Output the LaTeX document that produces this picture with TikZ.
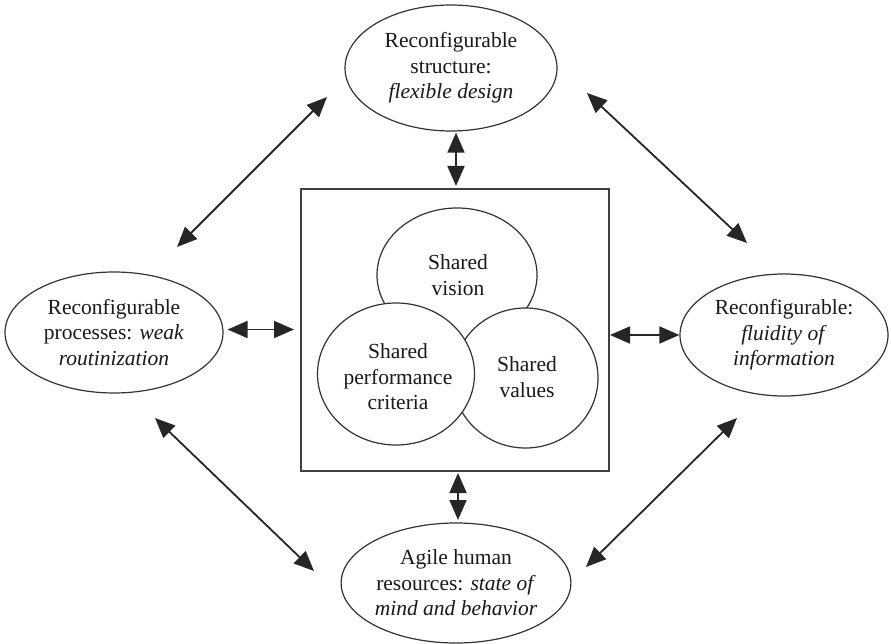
\documentclass[tikz,border=0pt]{standalone}
\usepackage{fontspec}
\setmainfont{Liberation Serif}
\usetikzlibrary{shapes.geometric,arrows.meta}

\tikzset{
  lbl/.style={align=center, font=\fontsize{21.5}{25.5}\selectfont, text=black!90},
  oval/.style={ellipse, draw=black!80, line width=1.2pt, fill=white, inner sep=0pt, lbl},
  disc/.style={ellipse, draw=black!80, line width=1.2pt, fill=white, inner sep=0pt},
  frame/.style={rectangle, draw=black!75, line width=1.6pt, inner sep=0pt},
  link/.style={draw=black!85, line width=1.8pt, {Triangle[length=20pt,width=17pt]}-{Triangle[length=20pt,width=17pt]}}
}

\begin{document}
\begin{tikzpicture}[x=1pt,y=-1pt]
\useasboundingbox (0,0) rectangle (891,644);

% central frame
\node[frame, minimum width=308pt, minimum height=282pt] (box) at (455,330) {};

% three overlapping shared elements
\node[disc, minimum width=160pt, minimum height=134pt] (vision) at (457,275) {};
\node[disc, minimum width=145pt, minimum height=140pt] (values) at (525.5,378) {};
\node[disc, minimum width=157pt, minimum height=142pt] (perf) at (396,374) {};
\node[lbl] (tvision) at (458,275) {Shared\\vision};
\node[lbl] (tperf) at (398,377) {Shared\\performance\\criteria};
\node[lbl] (tvalues) at (527,377) {Shared\\values};

% outer elements
\node[oval, minimum width=212pt, minimum height=126pt] (top) at (451,68)
  {Reconfigurable\\structure:\\\textit{flexible design}};
\node[oval, minimum width=218pt, minimum height=121pt] (left) at (114,332.5)
  {Reconfigurable\\processes: \textit{weak}\\\textit{routinization}};
\node[oval, minimum width=208pt, minimum height=122pt] (right) at (784,335)
  {Reconfigurable:\\\textit{fluidity of}\\\textit{information}};
\node[oval, minimum width=218pt, minimum height=120pt] (bottom) at (456,583)
  {Agile human\\resources: \textit{state of}\\\textit{mind and behavior}};

% links between the frame and the outer elements
\draw[link] (top.south -| 456,0) ++(0,1) coordinate (ta) -- (456,186) coordinate (tb);
\draw[link] (left.east) ++(4,-3) coordinate (la) -- (294,329.5) coordinate (lb);
\draw[link] (610,335) coordinate (ra) -- (right.west) coordinate (rb);
\draw[link] (458,473) coordinate (ba) -- (458,520) coordinate (bb);

% links around the outside
\coordinate (d1a) at (327,97);  \coordinate (d1b) at (177,247);
\coordinate (d2a) at (587,93);  \coordinate (d2b) at (747,243);
\coordinate (d3a) at (155,418); \coordinate (d3b) at (314,571);
\coordinate (d4a) at (737,418); \coordinate (d4b) at (586,567);
\draw[link] (d1a) -- (d1b);
\draw[link] (d2a) -- (d2b);
\draw[link] (d3a) -- (d3b);
\draw[link] (d4a) -- (d4b);
\end{tikzpicture}
\end{document}
